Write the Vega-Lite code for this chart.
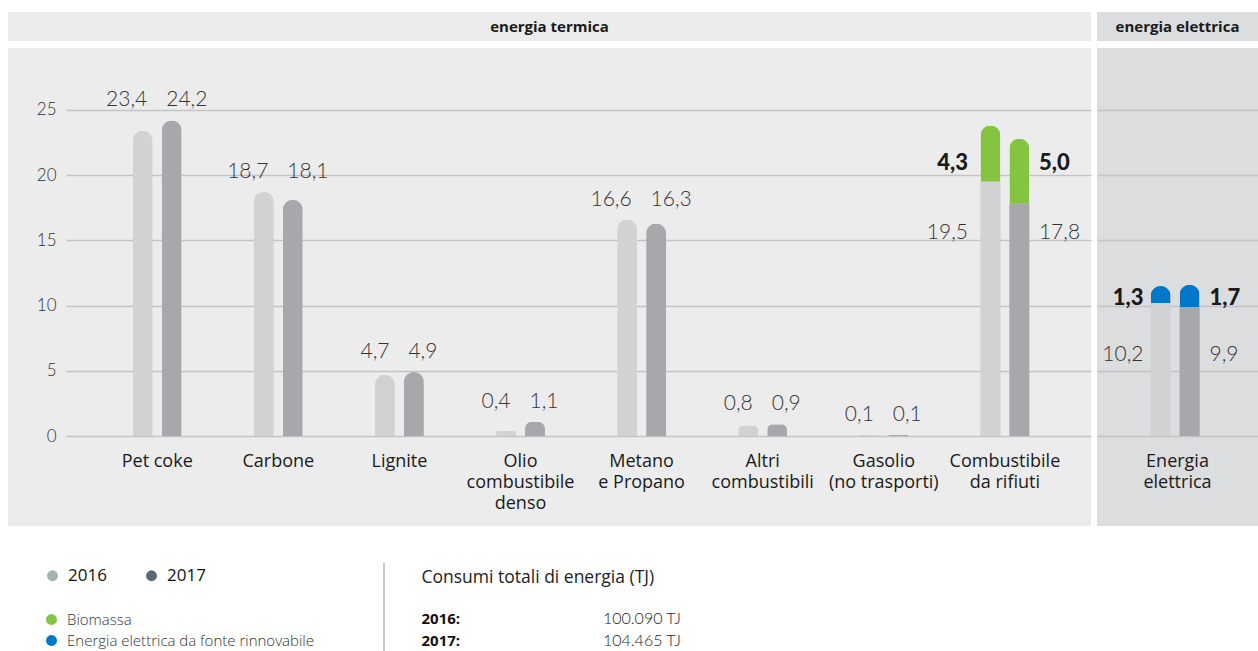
{
  "$schema": "https://vega.github.io/schema/vega-lite/v6.json",
  "padding": {"left": 8, "top": 12, "right": 0, "bottom": 0},
  "background": "#ffffff",
  "config": {
    "view": {"stroke": null},
    "locale": {"number": {"decimal": ",", "thousands": ".", "grouping": [3], "currency": ["", " TJ"]}},
    "axis": {"labelFont": "Open Sans", "titleFont": "Open Sans"}
  },
  "datasets": {
    "termica": [
      {"categoria": "Pet coke", "anno": "2016", "componente": "base", "valore": 23.4},
      {"categoria": "Pet coke", "anno": "2017", "componente": "base", "valore": 24.2},
      {"categoria": "Carbone", "anno": "2016", "componente": "base", "valore": 18.7},
      {"categoria": "Carbone", "anno": "2017", "componente": "base", "valore": 18.1},
      {"categoria": "Lignite", "anno": "2016", "componente": "base", "valore": 4.7},
      {"categoria": "Lignite", "anno": "2017", "componente": "base", "valore": 4.9},
      {"categoria": "Olio combustibile denso", "anno": "2016", "componente": "base", "valore": 0.4},
      {"categoria": "Olio combustibile denso", "anno": "2017", "componente": "base", "valore": 1.1},
      {"categoria": "Metano e Propano", "anno": "2016", "componente": "base", "valore": 16.6},
      {"categoria": "Metano e Propano", "anno": "2017", "componente": "base", "valore": 16.3},
      {"categoria": "Altri combustibili", "anno": "2016", "componente": "base", "valore": 0.8},
      {"categoria": "Altri combustibili", "anno": "2017", "componente": "base", "valore": 0.9},
      {"categoria": "Gasolio (no trasporti)", "anno": "2016", "componente": "base", "valore": 0.1},
      {"categoria": "Gasolio (no trasporti)", "anno": "2017", "componente": "base", "valore": 0.1},
      {"categoria": "Combustibile da rifiuti", "anno": "2016", "componente": "base", "valore": 19.5},
      {"categoria": "Combustibile da rifiuti", "anno": "2017", "componente": "base", "valore": 17.8},
      {"categoria": "Combustibile da rifiuti", "anno": "2016", "componente": "rinnovabile", "valore": 4.3},
      {"categoria": "Combustibile da rifiuti", "anno": "2017", "componente": "rinnovabile", "valore": 5.0}
    ],
    "elettrica": [
      {"categoria": "Energia elettrica", "anno": "2016", "componente": "base", "valore": 10.2},
      {"categoria": "Energia elettrica", "anno": "2017", "componente": "base", "valore": 9.9},
      {"categoria": "Energia elettrica", "anno": "2016", "componente": "rinnovabile", "valore": 1.3},
      {"categoria": "Energia elettrica", "anno": "2017", "componente": "rinnovabile", "valore": 1.7}
    ],
    "anni": [{"anno": "2016"}, {"anno": "2017"}],
    "fonti": [{"fonte": "Biomassa"}, {"fonte": "Energia elettrica da fonte rinnovabile"}],
    "totali": [{"anno": "2016", "totale": 100090}, {"anno": "2017", "totale": 104465}],
    "testata_termica": [{"titolo": "energia termica"}],
    "testata_elettrica": [{"titolo": "energia elettrica"}],
    "separatore": [{"elemento": "linea"}]
  },
  "resolve": {"scale": {"color": "independent", "fill": "independent"}, "legend": {"color": "independent", "fill": "independent"}},
  "spacing": 36,
  "vconcat": [
    {
      "spacing": 7,
      "resolve": {"scale": {"color": "independent"}},
      "vconcat": [
        {
          "spacing": 6,
          "hconcat": [
            {
              "width": 1083, "height": 29,
              "view": {"fill": "#ececec", "stroke": null},
              "data": {"name": "testata_termica"},
              "mark": {"type": "text", "font": "Open Sans", "fontWeight": "bold", "fontSize": 15, "color": "#1a1a1a"},
              "encoding": {"text": {"field": "titolo", "type": "nominal"}}
            },
            {
              "width": 161, "height": 29,
              "view": {"fill": "#dcdddf", "stroke": null},
              "data": {"name": "testata_elettrica"},
              "mark": {"type": "text", "font": "Open Sans", "fontWeight": "bold", "fontSize": 15, "color": "#1a1a1a"},
              "encoding": {"text": {"field": "titolo", "type": "nominal"}}
            }
          ]
        },
        {
          "spacing": 6,
          "resolve": {"scale": {"color": "independent"}},
          "hconcat": [
            {
              "spacing": 0,
              "hconcat": [
                {
                  "width": 58, "height": 478,
                  "view": {"fill": "#ececec", "stroke": null},
                  "data": {"name": "termica"},
                  "mark": {"type": "point", "opacity": 0},
                  "encoding": {
                    "y": {"field": "valore", "type": "quantitative",
                      "scale": {"domain": [-6.9, 29.75], "nice": false, "zero": false},
                      "axis": {"values": [0, 5, 10, 15, 20, 25], "format": "d", "orient": "left", "offset": -48, "domain": false, "ticks": false, "tickSize": 0, "labelPadding": 0, "grid": false, "title": null, "labelFont": "Lato", "labelFontWeight": 300, "labelFontSize": 17, "labelColor": "#333333"}}
                  }
                },
                {
                  "width": 1025, "height": 478,
                  "view": {"fill": "#ececec", "stroke": null},
                  "data": {"name": "termica"},
                  "resolve": {"axis": {"y": "independent"}},
                  "encoding": {
                    "x": {"field": "categoria", "type": "nominal",
                      "scale": {"domain": ["Pet coke", "Carbone", "Lignite", "Olio combustibile denso", "Metano e Propano", "Altri combustibili", "Gasolio (no trasporti)", "Combustibile da rifiuti"], "paddingInner": 0.596, "paddingOuter": 0.53, "align": 0.52},
                      "axis": {"orient": "bottom", "offset": -74, "domain": false, "ticks": false, "labelPadding": 0, "labelAngle": 0, "labelBaseline": "top", "labelFont": "Open Sans", "labelFontSize": 18, "labelColor": "#1a1a1a", "labelLineHeight": 21, "title": null, "grid": false,
                        "labelExpr": "(datum.value === 'Pet coke' || indexof(datum.value, ' ') < 0) ? datum.value : indexof(datum.value, 'Olio') === 0 ? split(datum.value, ' ') : [slice(datum.value, 0, indexof(datum.value, ' ')), slice(datum.value, indexof(datum.value, ' ') + 1)]"}}
                  },
                  "layer": [
                    {
                      "mark": {"type": "bar", "cornerRadiusTopLeft": 10, "cornerRadiusTopRight": 10},
                      "encoding": {
                        "xOffset": {"field": "anno", "type": "nominal", "scale": {"domain": ["2016", "2017"], "paddingInner": 0.31, "paddingOuter": 0}},
                        "y": {"field": "valore", "type": "quantitative",
                          "scale": {"domain": [-6.9, 29.75], "nice": false, "zero": false},
                          "axis": {"values": [0, 5, 10, 15, 20, 25], "labels": false, "ticks": false, "domain": false, "grid": true, "gridColor": "#c4c4c4", "gridWidth": 1.5, "title": null}},
                        "color": {"condition": {"test": "datum.componente === 'rinnovabile'", "value": "#84c441"}, "field": "anno", "type": "nominal", "scale": {"domain": ["2016", "2017"], "range": ["#d1d2d4", "#a7a8ab"]}, "legend": null},
                        "detail": {"field": "componente"},
                        "order": {"field": "componente", "sort": "ascending"}
                      }
                    },
                    {
                      "transform": [{"filter": "datum.componente === 'base' && datum.categoria === 'Combustibile da rifiuti'"}],
                      "mark": {"type": "bar"},
                      "encoding": {
                        "xOffset": {"field": "anno", "type": "nominal", "scale": {"domain": ["2016", "2017"], "paddingInner": 0.31, "paddingOuter": 0}},
                        "y": {"field": "valore", "type": "quantitative", "scale": {"domain": [-6.9, 29.75], "nice": false, "zero": false}, "axis": null},
                        "color": {"field": "anno", "type": "nominal", "scale": {"domain": ["2016", "2017"], "range": ["#d1d2d4", "#a7a8ab"]}, "legend": null}
                      }
                    },
                    {
                      "transform": [
                        {"joinaggregate": [{"op": "max", "field": "valore", "as": "massimo"}], "groupby": ["categoria"]},
                        {"filter": "datum.categoria !== 'Combustibile da rifiuti' && datum.anno === '2016'"}
                      ],
                      "mark": {"type": "text", "font": "Lato", "fontWeight": 300, "fontSize": 21, "color": "#333333", "baseline": "middle", "align": "right", "dx": -10, "dy": -20},
                      "encoding": {
                        "y": {"field": "massimo", "type": "quantitative", "scale": {"domain": [-6.9, 29.75], "nice": false, "zero": false}, "axis": null},
                        "text": {"field": "valore", "type": "quantitative", "format": ".1f"}
                      }
                    },
                    {
                      "transform": [
                        {"joinaggregate": [{"op": "max", "field": "valore", "as": "massimo"}], "groupby": ["categoria"]},
                        {"filter": "datum.categoria !== 'Combustibile da rifiuti' && datum.anno === '2017'"}
                      ],
                      "mark": {"type": "text", "font": "Lato", "fontWeight": 300, "fontSize": 21, "color": "#333333", "baseline": "middle", "align": "left", "dx": 9, "dy": -20},
                      "encoding": {
                        "y": {"field": "massimo", "type": "quantitative", "scale": {"domain": [-6.9, 29.75], "nice": false, "zero": false}, "axis": null},
                        "text": {"field": "valore", "type": "quantitative", "format": ".1f"}
                      }
                    },
                    {
                      "transform": [
                        {"joinaggregate": [{"op": "max", "field": "valore", "as": "massimo"}], "groupby": ["categoria"]},
                        {"filter": "datum.categoria === 'Combustibile da rifiuti' && datum.componente === 'base' && datum.anno === '2016'"}
                      ],
                      "mark": {"type": "text", "font": "Lato", "fontWeight": 300, "fontSize": 21, "color": "#333333", "baseline": "middle", "align": "right", "dx": -37, "dy": 51},
                      "encoding": {
                        "y": {"field": "massimo", "type": "quantitative", "scale": {"domain": [-6.9, 29.75], "nice": false, "zero": false}, "axis": null},
                        "text": {"field": "valore", "type": "quantitative", "format": ".1f"}
                      }
                    },
                    {
                      "transform": [
                        {"joinaggregate": [{"op": "max", "field": "valore", "as": "massimo"}], "groupby": ["categoria"]},
                        {"filter": "datum.categoria === 'Combustibile da rifiuti' && datum.componente === 'base' && datum.anno === '2017'"}
                      ],
                      "mark": {"type": "text", "font": "Lato", "fontWeight": 300, "fontSize": 21, "color": "#333333", "baseline": "middle", "align": "left", "dx": 34, "dy": 51},
                      "encoding": {
                        "y": {"field": "massimo", "type": "quantitative", "scale": {"domain": [-6.9, 29.75], "nice": false, "zero": false}, "axis": null},
                        "text": {"field": "valore", "type": "quantitative", "format": ".1f"}
                      }
                    },
                    {
                      "transform": [
                        {"joinaggregate": [{"op": "max", "field": "valore", "as": "massimo"}], "groupby": ["categoria"]},
                        {"filter": "datum.categoria === 'Combustibile da rifiuti' && datum.componente === 'rinnovabile' && datum.anno === '2016'"}
                      ],
                      "mark": {"type": "text", "font": "Lato", "fontWeight": 900, "fontSize": 22, "color": "#1a1a1a", "baseline": "middle", "align": "right", "dx": -37, "dy": -19},
                      "encoding": {
                        "y": {"field": "massimo", "type": "quantitative", "scale": {"domain": [-6.9, 29.75], "nice": false, "zero": false}, "axis": null},
                        "text": {"field": "valore", "type": "quantitative", "format": ".1f"}
                      }
                    },
                    {
                      "transform": [
                        {"joinaggregate": [{"op": "max", "field": "valore", "as": "massimo"}], "groupby": ["categoria"]},
                        {"filter": "datum.categoria === 'Combustibile da rifiuti' && datum.componente === 'rinnovabile' && datum.anno === '2017'"}
                      ],
                      "mark": {"type": "text", "font": "Lato", "fontWeight": 900, "fontSize": 22, "color": "#1a1a1a", "baseline": "middle", "align": "left", "dx": 34, "dy": -19},
                      "encoding": {
                        "y": {"field": "massimo", "type": "quantitative", "scale": {"domain": [-6.9, 29.75], "nice": false, "zero": false}, "axis": null},
                        "text": {"field": "valore", "type": "quantitative", "format": ".1f"}
                      }
                    }
                  ]
                }
              ]
            },
            {
              "width": 161, "height": 478,
              "view": {"fill": "#dcdddf", "stroke": null},
              "data": {"name": "elettrica"},
              "resolve": {"axis": {"y": "independent"}},
              "encoding": {
                "x": {"field": "categoria", "type": "nominal",
                  "scale": {"domain": ["Energia elettrica"], "paddingInner": 0, "paddingOuter": 1.143, "align": 0.5},
                  "axis": {"orient": "bottom", "offset": -74, "domain": false, "ticks": false, "labelPadding": 0, "labelAngle": 0, "labelBaseline": "top", "labelFont": "Open Sans", "labelFontSize": 18, "labelColor": "#1a1a1a", "labelLineHeight": 21, "title": null, "grid": false,
                    "labelExpr": "split(datum.value, ' ')"}}
              },
              "layer": [
                {
                  "mark": {"type": "bar", "cornerRadiusTopLeft": 10, "cornerRadiusTopRight": 10},
                  "encoding": {
                    "xOffset": {"field": "anno", "type": "nominal", "scale": {"domain": ["2016", "2017"], "paddingInner": 0.31, "paddingOuter": 0}},
                    "y": {"field": "valore", "type": "quantitative",
                      "scale": {"domain": [-6.9, 29.75], "nice": false, "zero": false},
                      "axis": {"values": [0, 5, 10, 15, 20, 25], "labels": false, "ticks": false, "domain": false, "grid": true, "gridColor": "#c4c4c4", "gridWidth": 1.5, "title": null}},
                    "color": {"condition": {"test": "datum.componente === 'rinnovabile'", "value": "#0077c8"}, "field": "anno", "type": "nominal", "scale": {"domain": ["2016", "2017"], "range": ["#d1d2d4", "#a7a8ab"]}, "legend": null},
                    "detail": {"field": "componente"},
                    "order": {"field": "componente", "sort": "ascending"}
                  }
                },
                {
                  "transform": [{"filter": "datum.componente === 'base'"}],
                  "mark": {"type": "bar"},
                  "encoding": {
                    "xOffset": {"field": "anno", "type": "nominal", "scale": {"domain": ["2016", "2017"], "paddingInner": 0.31, "paddingOuter": 0}},
                    "y": {"field": "valore", "type": "quantitative", "scale": {"domain": [-6.9, 29.75], "nice": false, "zero": false}, "axis": null},
                    "color": {"field": "anno", "type": "nominal", "scale": {"domain": ["2016", "2017"], "range": ["#d1d2d4", "#a7a8ab"]}, "legend": null}
                  }
                },
                {
                  "transform": [
                    {"joinaggregate": [{"op": "max", "field": "valore", "as": "massimo"}], "groupby": ["categoria"]},
                    {"filter": "datum.componente === 'base' && datum.anno === '2016'"}
                  ],
                  "mark": {"type": "text", "font": "Lato", "fontWeight": 300, "fontSize": 21, "color": "#333333", "baseline": "middle", "align": "right", "dx": -34, "dy": 52},
                  "encoding": {
                    "y": {"field": "massimo", "type": "quantitative", "scale": {"domain": [-6.9, 29.75], "nice": false, "zero": false}, "axis": null},
                    "text": {"field": "valore", "type": "quantitative", "format": ".1f"}
                  }
                },
                {
                  "transform": [
                    {"joinaggregate": [{"op": "max", "field": "valore", "as": "massimo"}], "groupby": ["categoria"]},
                    {"filter": "datum.componente === 'base' && datum.anno === '2017'"}
                  ],
                  "mark": {"type": "text", "font": "Lato", "fontWeight": 300, "fontSize": 21, "color": "#333333", "baseline": "middle", "align": "left", "dx": 32, "dy": 52},
                  "encoding": {
                    "y": {"field": "massimo", "type": "quantitative", "scale": {"domain": [-6.9, 29.75], "nice": false, "zero": false}, "axis": null},
                    "text": {"field": "valore", "type": "quantitative", "format": ".1f"}
                  }
                },
                {
                  "transform": [
                    {"joinaggregate": [{"op": "max", "field": "valore", "as": "massimo"}], "groupby": ["categoria"]},
                    {"filter": "datum.componente === 'rinnovabile' && datum.anno === '2016'"}
                  ],
                  "mark": {"type": "text", "font": "Lato", "fontWeight": 900, "fontSize": 22, "color": "#1a1a1a", "baseline": "middle", "align": "right", "dx": -34, "dy": -5},
                  "encoding": {
                    "y": {"field": "massimo", "type": "quantitative", "scale": {"domain": [-6.9, 29.75], "nice": false, "zero": false}, "axis": null},
                    "text": {"field": "valore", "type": "quantitative", "format": ".1f"}
                  }
                },
                {
                  "transform": [
                    {"joinaggregate": [{"op": "max", "field": "valore", "as": "massimo"}], "groupby": ["categoria"]},
                    {"filter": "datum.componente === 'rinnovabile' && datum.anno === '2017'"}
                  ],
                  "mark": {"type": "text", "font": "Lato", "fontWeight": 900, "fontSize": 22, "color": "#1a1a1a", "baseline": "middle", "align": "left", "dx": 32, "dy": -5},
                  "encoding": {
                    "y": {"field": "massimo", "type": "quantitative", "scale": {"domain": [-6.9, 29.75], "nice": false, "zero": false}, "axis": null},
                    "text": {"field": "valore", "type": "quantitative", "format": ".1f"}
                  }
                }
              ]
            }
          ]
        }
      ]
    },
    {
      "spacing": 36,
      "hconcat": [
        {
          "width": 376, "height": 89,
          "layer": [
            {
              "data": {"name": "separatore"},
              "mark": {"type": "rule", "color": "#c9c9c9", "strokeWidth": 2},
              "encoding": {"x": {"value": "width"}}
            },
            {
              "data": {"name": "anni"},
              "transform": [{"filter": "false"}],
              "mark": {"type": "circle", "opacity": 1},
              "encoding": {
                "fill": {"field": "anno", "type": "nominal",
                  "scale": {"domain": ["2016", "2017"], "range": ["#a7b2ae", "#5b6a72"]},
                  "legend": {"orient": "none", "legendX": 36, "legendY": 4, "direction": "horizontal", "title": null, "symbolType": "circle", "symbolSize": 120, "symbolStrokeWidth": 0, "symbolOpacity": 1, "labelFont": "Open Sans", "labelFontSize": 17, "labelFontWeight": 500, "labelColor": "#111111", "labelOffset": 7, "columnPadding": 36, "padding": 0}}
              }
            },
            {
              "data": {"name": "fonti"},
              "transform": [{"filter": "false"}],
              "mark": {"type": "circle", "opacity": 1},
              "encoding": {
                "color": {"field": "fonte", "type": "nominal",
                  "scale": {"domain": ["Biomassa", "Energia elettrica da fonte rinnovabile"], "range": ["#84c441", "#0077c8"]},
                  "legend": {"orient": "none", "legendX": 36, "legendY": 49, "direction": "vertical", "title": null, "symbolType": "circle", "symbolSize": 120, "symbolStrokeWidth": 0, "symbolOpacity": 1, "labelFont": "Open Sans", "labelFontSize": 15, "labelFontWeight": 300, "labelColor": "#333333", "labelOffset": 8, "rowPadding": 5, "padding": 0, "labelLimit": 400}}
              }
            }
          ]
        },
        {
          "width": 260, "height": 89,
          "data": {"name": "totali"},
          "mark": {"type": "text", "align": "right", "baseline": "middle", "font": "Lato", "fontWeight": 300, "fontSize": 16, "color": "#222222"},
          "encoding": {
            "x": {"value": "width"},
            "y": {"field": "anno", "type": "nominal",
              "scale": {"type": "band", "paddingInner": 0, "paddingOuter": 1, "align": 1},
              "axis": {"orient": "left", "domain": false, "ticks": false, "tickSize": 0, "labelPadding": 0, "labelAlign": "left", "labelExpr": "datum.label + ':'", "labelFont": "Open Sans", "labelFontWeight": "bold", "labelFontSize": 15, "labelColor": "#111111", "grid": false,
                "title": "Consumi totali di energia (TJ)", "titleAngle": 0, "titleX": 0, "titleY": 14, "titleAlign": "left", "titleBaseline": "middle", "titleFont": "Open Sans", "titleFontSize": 17.5, "titleFontWeight": "normal", "titleColor": "#222222"}},
            "text": {"field": "totale", "type": "quantitative", "format": "$,.0f"}
          }
        }
      ]
    }
  ]
}
